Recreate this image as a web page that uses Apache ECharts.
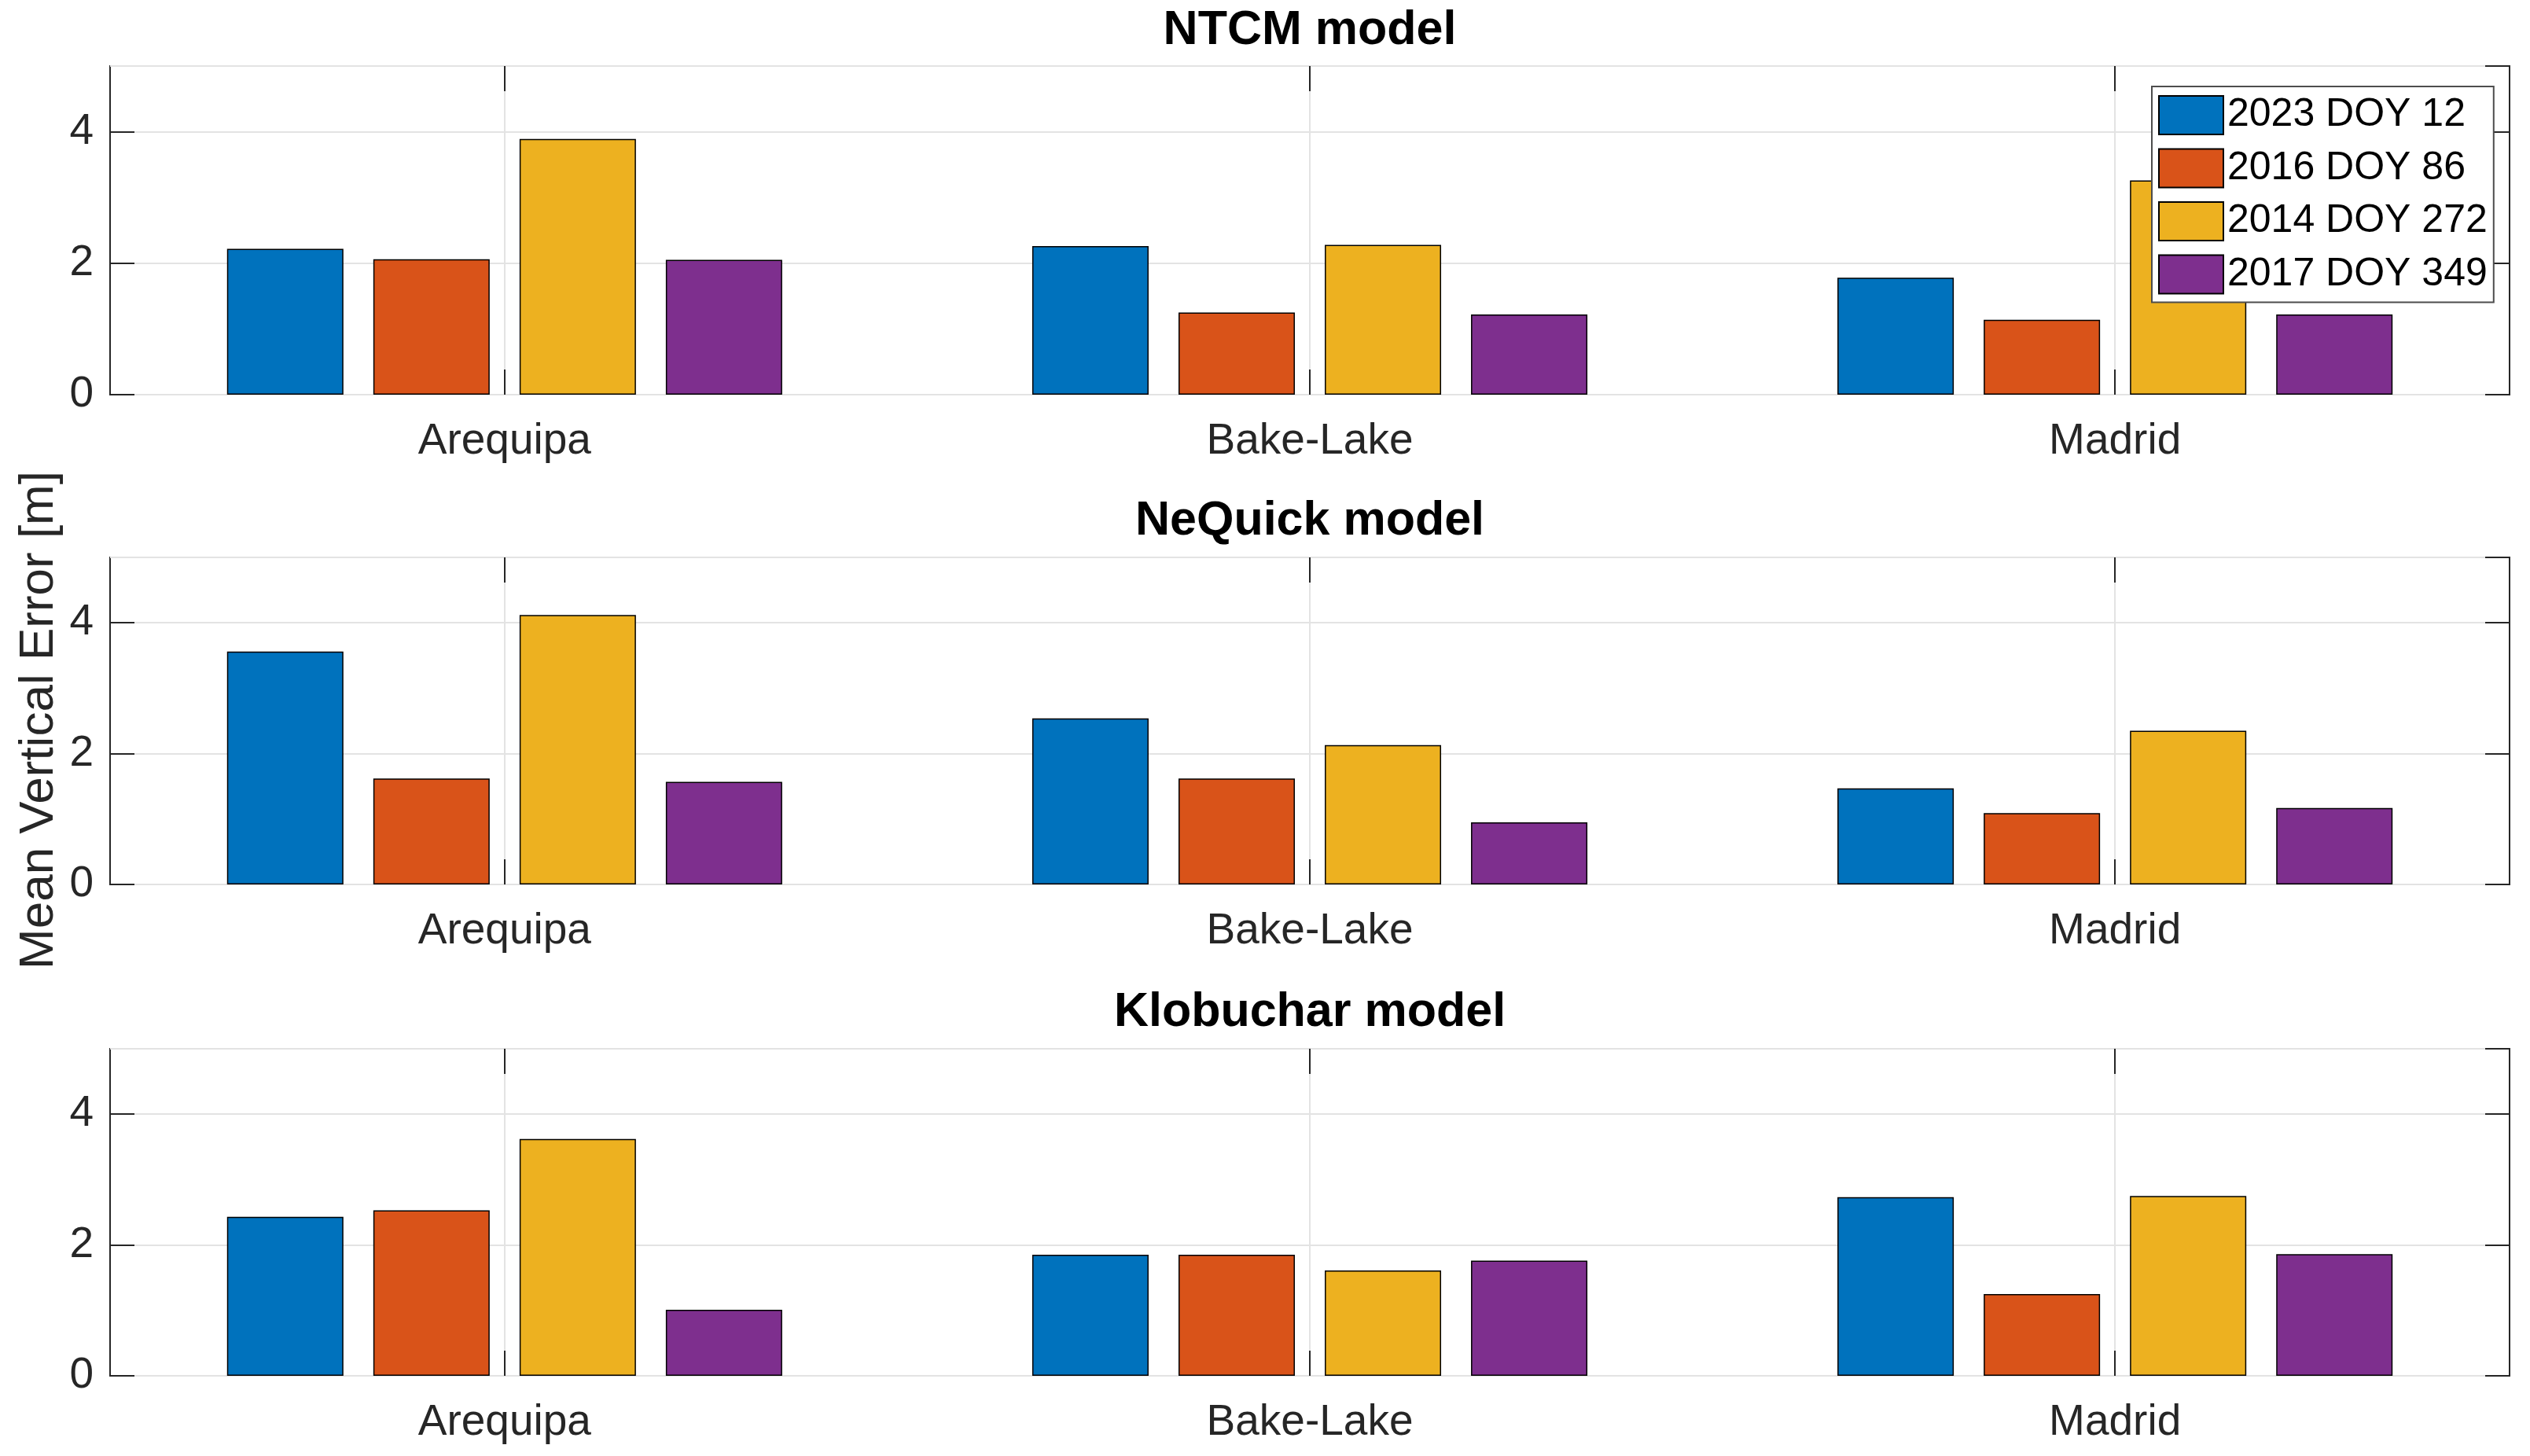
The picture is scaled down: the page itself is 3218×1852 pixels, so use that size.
<!DOCTYPE html>
<html>
<head>
<meta charset="utf-8">
<script src="https://cdn.jsdelivr.net/npm/echarts@6/dist/echarts.min.js"></script>
<style>
html,body{margin:0;padding:0;background:#fff;}
#chart{width:3218px;height:1852px;}
</style>
</head>
<body>
<div id="chart"></div>
<script>
// ---- data ----
const categories = ['Arequipa', 'Bake-Lake', 'Madrid'];
const seriesNames = ['2023 DOY 12', '2016 DOY 86', '2014 DOY 272', '2017 DOY 349'];
const seriesColors = ['#0072BD', '#D95319', '#EDB120', '#7E2F8E'];
const modelTitles = ['NTCM model', 'NeQuick model', 'Klobuchar model'];
const yAxisTitle = 'Mean Vertical Error [m]';
const yTicks = { min: 0, max: 5, interval: 2 };
const xLimits = [0.51, 3.49];

// rows: series (2023 DOY 12, 2016 DOY 86, 2014 DOY 272, 2017 DOY 349); columns: categories
const ntcm = [
  [2.22, 2.26, 1.78],
  [2.06, 1.25, 1.14],
  [3.89, 2.28, 3.26],
  [2.05, 1.22, 1.22]
];
const nequick = [
  [3.56, 2.54, 1.47],
  [1.62, 1.62, 1.09],
  [4.12, 2.13, 2.35],
  [1.57, 0.95, 1.17]
];
const klobuchar = [
  [2.43, 1.85, 2.73],
  [2.53, 1.85, 1.25],
  [3.62, 1.61, 2.75],
  [1.01, 1.76, 1.86]
];
const models = [ntcm, nequick, klobuchar];

// category positions 1..n on the x axis
const catPos = categories.map(function (c, i) { return i + 1; });

// ---- layout / style ----
const FONT = 'Liberation Sans, Arial, Helvetica, sans-serif';
const AX = '#262626';
const GRIDC = '#e3e3e3';
const gridTops = [84, 709, 1334];
const gridHeights = [418, 416, 416];
const titleCenters = [39, 663, 1288];

const grids = [], xAxes = [], yAxes = [], series = [], graphics = [];

models.forEach(function (model, gi) {
  grids.push({
    left: 140, right: 26, top: gridTops[gi], height: gridHeights[gi],
    show: true, borderColor: AX, borderWidth: 2, backgroundColor: '#fff'
  });
  const xTick = { show: true, inside: true, length: 32, customValues: catPos, lineStyle: { color: AX, width: 2 } };
  xAxes.push({
    type: 'value', gridIndex: gi, position: 'bottom', min: xLimits[0], max: xLimits[1],
    axisLine: { show: false, onZero: false },
    axisTick: xTick,
    splitLine: { show: true, customValues: catPos, lineStyle: { color: GRIDC, width: 2 } },
    axisLabel: {
      fontSize: 55, fontFamily: FONT, color: AX, margin: 32, lineHeight: 55,
      customValues: catPos, showMinLabel: true, showMaxLabel: true,
      formatter: function (v) { return categories[Math.round(v) - 1] || ''; }
    }
  });
  xAxes.push({
    type: 'value', gridIndex: gi, position: 'top', min: xLimits[0], max: xLimits[1],
    axisLine: { show: false, onZero: false },
    axisTick: xTick,
    splitLine: { show: false },
    axisLabel: { show: false }
  });
  const yTickStyle = { show: true, inside: true, length: 31, lineStyle: { color: AX, width: 2 } };
  yAxes.push({
    type: 'value', gridIndex: gi, position: 'left',
    min: yTicks.min, max: yTicks.max, interval: yTicks.interval,
    axisLine: { show: false, onZero: false }, axisTick: yTickStyle,
    axisLabel: { fontSize: 55, fontFamily: FONT, color: AX, margin: 21, showMaxLabel: false },
    splitLine: { show: true, lineStyle: { color: GRIDC, width: 2 } }
  });
  yAxes.push({
    type: 'value', gridIndex: gi, position: 'right',
    min: yTicks.min, max: yTicks.max, interval: yTicks.interval,
    axisLine: { show: false, onZero: false }, axisTick: yTickStyle,
    axisLabel: { show: false }, splitLine: { show: false }
  });
  model.forEach(function (vals, si) {
    series.push({
      type: 'bar', name: seriesNames[si],
      xAxisIndex: gi * 2, yAxisIndex: gi * 2,
      data: vals.map(function (v, ci) { return [catPos[ci], v]; }),
      barWidth: 148, barGap: '25.7%',
      itemStyle: { color: seriesColors[si], borderColor: '#000', borderWidth: 1.5 },
      emphasis: { disabled: true }
    });
  });
  graphics.push({
    type: 'text', x: 1666, y: titleCenters[gi],
    style: {
      text: modelTitles[gi], fontSize: 61, fontWeight: 'bold', fontFamily: FONT, fill: '#000',
      align: 'center', verticalAlign: 'middle'
    }
  });
});

graphics.push({
  type: 'text', x: 50, y: 916, rotation: Math.PI / 2,
  style: {
    text: yAxisTitle, fontSize: 62, fontFamily: FONT, fill: AX,
    align: 'center', verticalAlign: 'middle'
  }
});

const chart = echarts.init(document.getElementById('chart'), null, { renderer: 'canvas' });
chart.setOption({
  animation: false,
  backgroundColor: '#fff',
  grid: grids,
  xAxis: xAxes,
  yAxis: yAxes,
  legend: {
    data: seriesNames, orient: 'vertical', left: 2737, top: 110,
    padding: [11, 8, 10, 8], itemWidth: 82, itemHeight: 49, itemGap: 16.5,
    backgroundColor: '#fff', borderColor: '#4d4d4d', borderWidth: 2,
    icon: 'rect', selectedMode: false,
    textStyle: { fontSize: 50, fontFamily: FONT, color: '#000', lineHeight: 50 }
  },
  graphic: graphics,
  series: series
});
</script>
</body>
</html>
